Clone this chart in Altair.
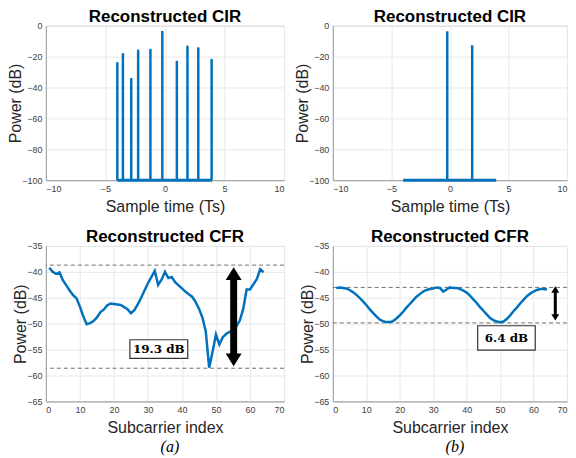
import altair as alt
import pandas as pd

# ---------------- data ----------------
cir_a_t = [-4.0, -3.53, -2.83, -2.25, -1.22, -0.22, 1.0, 1.89, 2.8, 3.92]
cir_a_p = [-23.6, -17.8, -33.9, -15.5, -15.0, -3.4, -22.7, -12.9, -14.0, -21.5]
cir_b_t = [-0.23, 1.9]
cir_b_p = [-3.6, -12.6]
cir_floor = -100
cir_span = [-4.0, 3.95]

subcarrier = list(range(1, 65))
cfr_a = [-39.2, -40.0, -40.4, -40.1, -41.6, -42.6, -43.6, -44.5, -45.1, -46.7,
         -48.6, -50.1, -49.9, -49.5, -48.8, -47.8, -47.3, -46.5, -46.1, -46.2,
         -46.3, -46.4, -46.8, -47.2, -48.0, -47.4, -46.3, -45.0, -43.6, -42.2,
         -41.0, -39.8, -42.5, -41.5, -40.0, -41.2, -41.0, -42.0, -42.6, -43.2,
         -43.8, -44.3, -44.8, -45.8, -47.1, -48.8, -51.5, -58.5, -55.4, -52.1,
         -54.0, -52.6, -52.0, -51.6, -51.3, -50.5, -49.4, -47.2, -43.4, -43.4,
         -42.4, -41.4, -39.5, -40.1]
cfr_b = [-43.1, -43.0, -43.1, -43.2, -43.5, -43.9, -44.4, -45.0, -45.7, -46.4,
         -47.2, -47.9, -48.6, -49.2, -49.5, -49.7, -49.7, -49.5, -49.0, -48.4,
         -47.7, -46.9, -46.2, -45.5, -44.8, -44.3, -43.8, -43.5, -43.3, -43.2,
         -43.0, -43.1, -43.8, -43.4, -43.0, -43.1, -43.1, -43.3, -43.6, -44.0,
         -44.6, -45.3, -46.0, -46.8, -47.5, -48.2, -48.9, -49.3, -49.6, -49.7,
         -49.6, -49.1, -48.4, -47.6, -46.9, -46.1, -45.4, -44.7, -44.2, -43.8,
         -43.5, -43.3, -43.3, -43.4]

# annotations
ref_a = [-38.7, -58.6]
ref_b = [-43.0, -49.85]
arrow_a = {"x": 55.2, "top": -39.1, "bot": -58.2, "shaft": [-41.3, -56.0]}
arrow_b = {"x": 66.5, "top": -42.8, "bot": -49.4, "shaft": [-43.5, -48.7]}
box_a = {"x": 24.7, "x2": 41.7, "y": -53.1, "y2": -56.7, "label": "19.3 dB"}
box_b = {"x": 43.3, "x2": 60.5, "y": -50.4, "y2": -55.1, "label": "6.4 dB"}

cir_xticks = [-10, -5, 0, 5, 10]
cir_yticks = [0, -20, -40, -60, -80, -100]
cfr_xticks = [0, 10, 20, 30, 40, 50, 60, 70]
cfr_yticks = [-35, -40, -45, -50, -55, -60, -65]

BLUE = "#0072BD"
FONT = "Liberation Sans"
W_L, W_R, H_T, H_B = 239, 235, 155, 156


def title(t):
    return alt.TitleParams(t, fontSize=17, fontWeight="bold", font=FONT,
                           color="black", offset=-4.5)


def axis(vals, t):
    return alt.Axis(values=vals, tickCount=len(vals), title=t,
                    labelOverlap=False, labelBound=False)


def cir_panel(ts, ps, w, h):
    stems = pd.DataFrame({"t": ts, "p": ps, "floor": [cir_floor] * len(ts)})
    base = pd.DataFrame({"t": [cir_span[0]], "t2": [cir_span[1]], "p": [cir_floor]})
    xs = alt.Scale(domain=[-10, 10], nice=False)
    ys = alt.Scale(domain=[-100, 0], nice=False)
    s = alt.Chart(stems).mark_rule(color=BLUE, strokeWidth=2.5).encode(
        x=alt.X("t:Q", scale=xs, axis=axis(cir_xticks, "Sample time (Ts)")),
        y=alt.Y("p:Q", scale=ys, axis=axis(cir_yticks, "Power (dB)")),
        y2="floor:Q",
    )
    b = alt.Chart(base).mark_rule(color=BLUE, strokeWidth=3).encode(
        x=alt.X("t:Q", scale=xs), x2="t2:Q", y=alt.Y("p:Q", scale=ys)
    )
    return alt.layer(s, b).properties(width=w, height=h, title=title("Reconstructed CIR"))


def cfr_panel(vals, refs, arrow, box, tag, w, h, head_scale, shaft_w):
    df = pd.DataFrame({"k": subcarrier, "p": vals})
    xs = alt.Scale(domain=[0, 70], nice=False)
    ys = alt.Scale(domain=[-65, -35], nice=False)
    line = alt.Chart(df).mark_line(color=BLUE, strokeWidth=2.5).encode(
        x=alt.X("k:Q", scale=xs, axis=axis(cfr_xticks, "Subcarrier index")),
        y=alt.Y("p:Q", scale=ys, axis=axis(cfr_yticks, "Power (dB)")),
    )
    rdf = pd.DataFrame({"r": refs})
    rules = alt.Chart(rdf).mark_rule(color="#707070", strokeWidth=1, strokeDash=[4, 3]).encode(
        y=alt.Y("r:Q", scale=ys)
    )
    sdf = pd.DataFrame({"x": [arrow["x"]], "y": [arrow["shaft"][0]], "y2": [arrow["shaft"][1]]})
    shaft = alt.Chart(sdf).mark_rule(color="black", strokeWidth=shaft_w).encode(
        x=alt.X("x:Q", scale=xs), y=alt.Y("y:Q", scale=ys), y2="y2:Q"
    )
    size = (2 * head_scale) ** 2
    hdf_top = pd.DataFrame({"x": [arrow["x"]], "y": [arrow["top"]]})
    hdf_bot = pd.DataFrame({"x": [arrow["x"]], "y": [arrow["bot"]]})
    head_top = alt.Chart(hdf_top).mark_point(
        shape="M0,0L1,1.6L-1,1.6Z", filled=True, color="black", opacity=1, size=size
    ).encode(x=alt.X("x:Q", scale=xs), y=alt.Y("y:Q", scale=ys))
    head_bot = alt.Chart(hdf_bot).mark_point(
        shape="M0,0L1,-1.6L-1,-1.6Z", filled=True, color="black", opacity=1, size=size
    ).encode(x=alt.X("x:Q", scale=xs), y=alt.Y("y:Q", scale=ys))
    bdf = pd.DataFrame([box])
    bdf["xc"] = (bdf["x"] + bdf["x2"]) / 2
    bdf["yc"] = (bdf["y"] + bdf["y2"]) / 2
    rect = alt.Chart(bdf).mark_rect(fill="white", stroke="#333333", strokeWidth=1.2).encode(
        x=alt.X("x:Q", scale=xs), x2="x2:Q", y=alt.Y("y:Q", scale=ys), y2="y2:Q"
    )
    txt = alt.Chart(bdf).mark_text(font="DejaVu Serif", fontWeight="bold", fontSize=12,
                                   color="black").encode(
        x=alt.X("xc:Q", scale=xs), y=alt.Y("yc:Q", scale=ys), text="label:N"
    )
    tdf = pd.DataFrame({"tag": [tag]})
    tag_t = alt.Chart(tdf).mark_text(font="Liberation Serif", fontStyle="italic",
                                     fontSize=16, color="black", baseline="middle").encode(
        x=alt.value(w / 2 + 5), y=alt.value(h + 46), text="tag:N"
    )
    return alt.layer(rules, line, shaft, head_top, head_bot, rect, txt, tag_t).properties(
        width=w, height=h, title=title("Reconstructed CFR")
    )


chart = alt.concat(
    cir_panel(cir_a_t, cir_a_p, W_L, H_T),
    cir_panel(cir_b_t, cir_b_p, W_R, H_T),
    cfr_panel(cfr_a, ref_a, arrow_a, box_a, "(a)", W_L, H_B, 8, 7),
    cfr_panel(cfr_b, ref_b, arrow_b, box_b, "(b)", W_R, H_B, 4, 3),
    columns=2, spacing={"row": 66, "column": 49}, bounds="flush",
).properties(
    padding={"left": -1, "top": -1, "right": 0, "bottom": 0}
).configure_axis(
    labelFont=FONT, labelFontSize=9, labelColor="#404040",
    titleFont=FONT, titleFontSize=16, titleFontWeight="normal", titleColor="#262626",
    gridColor="#e8e8e8", domainColor="#a0a0a0", tickColor="#a0a0a0", tickSize=0,
    labelPadding=4,
).configure_axisY(titlePadding=-2).configure_axisX(titlePadding=5).configure_view(
    stroke="#c8c8c8"
)

chart.save("out.html", embed_options={"renderer": "svg", "actions": False})
